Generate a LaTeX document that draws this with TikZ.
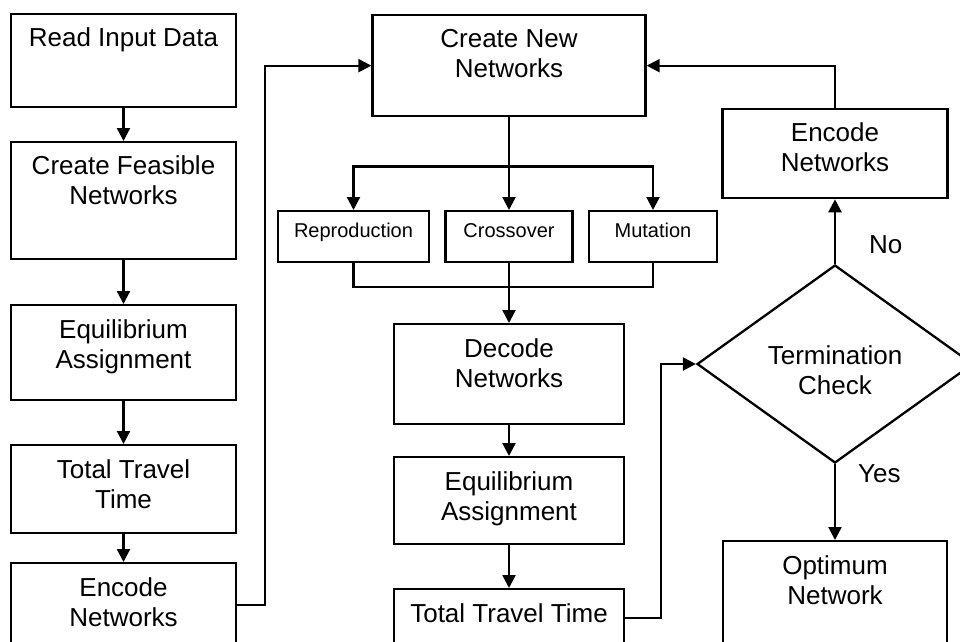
\documentclass[tikz,border=0pt]{standalone}
\usepackage{fontspec}
\setmainfont{Liberation Sans}
\usetikzlibrary{arrows.meta, calc, positioning, shapes.geometric}

\begin{document}
\begin{tikzpicture}[
	x=1pt, y=-1pt,
	line width=2.3pt,
	flow/.style = {-{Triangle[length=13pt, width=13pt]}},
	stage/.style = {draw, anchor=north, inner sep=0pt, label={[stage text]north:{#1}}},
	stage text/.style = {anchor=north, yshift=-14pt, inner sep=0pt, align=center, font=\fontsize{26pt}{30pt}\selectfont},
	operator/.style = {draw, anchor=north, inner sep=0pt, minimum height=51pt, label={[operator text]north:{#1}}},
	operator text/.style = {anchor=north, yshift=-12pt, inner sep=0pt, font=\fontsize{20pt}{24pt}\selectfont},
	decision/.style = {diamond, draw, inner sep=0pt, minimum width=276pt, minimum height=198pt, label={[stage text, anchor=center, yshift=8pt]center:{#1}}},
	answer/.style = {inner sep=0pt, anchor=west, font=\fontsize{26pt}{30pt}\selectfont}
]

\useasboundingbox (0,0) rectangle (960,641);
\clip (0,0) rectangle (960,641);

\node[stage={Read Input Data}, minimum width=225pt, minimum height=93pt] (read) at (123.5,13) {};
\node[stage={Create Feasible\\Networks}, minimum width=225pt, minimum height=117pt] (feasible) at (123.5,141) {};
\node[stage={Equilibrium\\Assignment}, minimum width=225pt, minimum height=95pt] (assignL) at (123.5,304) {};
\node[stage={Total Travel\\Time}, minimum width=225pt, minimum height=88pt] (travelL) at (123.5,444) {};
\node[stage={Encode\\Networks}, minimum width=225pt, minimum height=84pt] (encodeL) at (123.5,562) {};

\node[stage={Create New\\Networks}, minimum width=273pt, minimum height=101pt] (create) at (509,14) {};
\node[operator=Reproduction, minimum width=151pt] (repro) at (353.5,210) {};
\node[operator=Crossover, minimum width=127pt] (cross) at (509,210) {};
\node[operator=Mutation, minimum width=128pt] (mutate) at (653,210) {};
\node[stage={Decode\\Networks}, minimum width=230pt, minimum height=100pt] (decode) at (509,323) {};
\node[stage={Equilibrium\\Assignment}, minimum width=230pt, minimum height=87pt] (assignM) at (509,456) {};
\node[stage={Total Travel Time}, minimum width=230pt, minimum height=58pt] (travelM) at (509,588) {};

\node[stage={Encode\\Networks}, minimum width=225pt, minimum height=89pt] (encodeR) at (835,108) {};
\node[decision={Termination\\Check}] (check) at (835,364) {};
\node[stage={Optimum\\Network}, minimum width=224pt, minimum height=110pt] (optimum) at (835,540) {};

\draw[flow] (read) -- (feasible);
\draw[flow] (feasible) -- (assignL);
\draw[flow] (assignL) -- (travelL);
\draw[flow] (travelL) -- (encodeL);
\draw[flow] (encodeL.east) -- ++(28,0) |- (create.west);

\coordinate (fork) at ($(create.south)!0.53!(cross.north)$);
\coordinate (join) at ($(cross.south)!0.4!(decode.north)$);
\draw[flow] (create) -- (cross);
\draw[flow] (fork) -| (repro.north);
\draw[flow] (fork) -| (mutate.north);
\draw (repro.south) |- (join) -| (mutate.south);
\draw[flow] (cross) -- (decode);
\draw[flow] (decode) -- (assignM);
\draw[flow] (assignM) -- (travelM);
\draw[flow] (travelM.east) -- ++(36,0) |- (check.west);

\draw[flow] (check) -- (encodeR) node[answer, pos=0.3, right=33pt] (no) {No};
\draw[flow] (check) -- (optimum) node[answer, pos=0.13, right=22pt] (yes) {Yes};
\draw[flow] (encodeR.north) |- (create.east);

\end{tikzpicture}
\end{document}
